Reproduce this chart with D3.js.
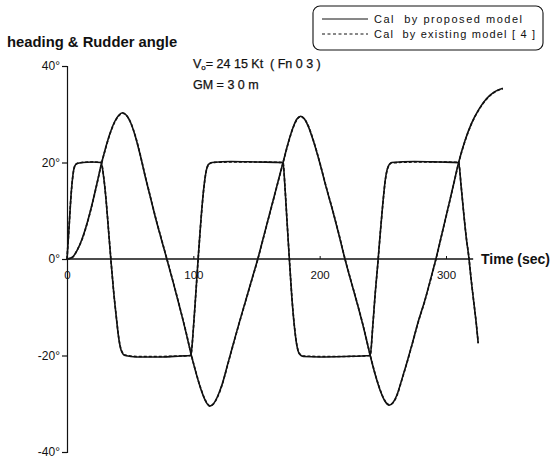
<!DOCTYPE html>
<html><head><meta charset="utf-8">
<script src="https://cdn.jsdelivr.net/npm/d3@7"></script>
<style>
html,body{margin:0;padding:0;background:#fff;}
svg{display:block;font-family:"Liberation Sans",Arial,sans-serif;}
text{white-space:pre;}
</style></head>
<body>
<svg id="chart" width="554" height="462"></svg>
<script>
// ---- data (time in sec, angles in degrees) ----
const headingTime = [0,4,8,12,16,20,24,27,30,34,38,41,44,47,50,54,58,62,66,70,75,79,84,89,94,98,102,106,110,113,116,119,123,127,131,136,141,146,151,156,161,166,171,175,179,182,185,188,191,195,200,205,210,215,220,225,230,235,240,244,248,252,255,258,261,265,269,273,278,283,288,292,297,302,306,310,315,320,326,332,338,345];
const headingProposed = [0,0.3,1.8,4.2,7.5,11.5,16,19.5,22.5,26,28.6,29.8,30.3,29.8,28.5,25.5,21.5,17,12.8,8.6,3.8,0,-4.8,-9.8,-15,-19.5,-23.5,-27,-29.6,-30.5,-30,-28.6,-25.8,-22,-18.2,-13.5,-9,-4.5,0,5,10,15,20,24,27.3,29,29.6,29,27.5,24.5,20,15,10.3,5.3,0,-4.8,-9.5,-14.5,-20,-24,-27.3,-29.6,-30.3,-29.8,-28.3,-25,-21.5,-17.8,-13,-8.8,-4,0,5.5,11,15.5,20,24.5,28,31,33.2,34.6,35.4];
const headingExisting = [0,0.3,1.8,4.1,7.4,11.4,15.9,19.4,22.4,25.9,28.5,29.7,30.2,29.8,28.5,25.6,21.6,17.1,12.9,8.7,3.9,0.1,-4.7,-9.7,-14.9,-19.4,-23.4,-26.9,-29.5,-30.4,-30,-28.7,-25.9,-22.1,-18.3,-13.6,-9.1,-4.6,-0.1,4.9,9.9,14.9,19.9,23.9,27.2,28.9,29.5,29,27.6,24.6,20.1,15.1,10.4,5.4,0.1,-4.7,-9.4,-14.4,-19.9,-23.9,-27.2,-29.5,-30.2,-29.8,-28.4,-25.1,-21.6,-17.9,-13.1,-8.9,-4.1,-0.1,5.4,10.9,15.4,19.9,24.4,27.9,30.9,33.1,34.5,35.3];

const rudderTime = [0,1.5,3,4.5,6,8,12,20,27,29,31,33,35,37,39,41,43,46,55,75,90,98,100,102,104,106,108,110,112,115,130,150,171,172.5,174,176,178,180,182,184,187,200,220,240,242,244,246,248,250,252,254,257,275,295,310,312,314,316,318,320,322,324,325.5];
const rudderProposed = [0,6,12.5,17,19.2,19.8,20,20.1,20,17,12,5.5,-1,-7,-12,-16.5,-19,-20,-20.3,-20.3,-20.1,-20,-14.5,-7,0.8,8,14,18,19.6,20,20.2,20.1,20,15,8.5,0,-8,-14,-18,-19.7,-20.2,-20.3,-20.2,-20,-14,-7,-1,5.5,11.5,16.5,19,20,20.2,20.1,20,15,9.5,4.5,0.5,-4.5,-9,-13.5,-17.5];
const rudderExisting = [0,6,12.4,16.9,19.1,19.8,20,20.1,20,17.1,12.1,5.6,-0.9,-6.9,-11.9,-16.4,-18.9,-19.9,-20.2,-20.2,-20.1,-20,-14.6,-7.1,0.7,7.9,13.9,17.9,19.5,20,20.1,20.1,20,15.1,8.6,0.1,-7.9,-13.9,-17.9,-19.6,-20.1,-20.2,-20.2,-20,-14.1,-7.1,-1.1,5.4,11.4,16.4,18.9,19.9,20.1,20.1,20,15.1,9.6,4.6,0.6,-4.4,-8.9,-13.4,-17.4];

const yTicks = [-40,-20,0,20,40];
const xTicks = [0,100,200,300];
const xAxisEnd = 321.5;
const legendLabels = ["Cal  by proposed model","Cal  by existing model [ 4 ]"];

// ---- scales ----
const svg = d3.select("#chart");
const x = d3.scaleLinear().domain([0,300]).range([67,446]);
const y = d3.scaleLinear().domain([-40,40]).range([452,66]);
const ink = "#111";

// ---- y axis ----
const yAxis = svg.append("g").attr("transform",`translate(${x(0)},0)`)
  .call(d3.axisLeft(y).tickValues(yTicks).tickSizeInner(5).tickSizeOuter(5).tickPadding(2)
    .tickFormat(d => d + "°"));
yAxis.selectAll("path,line").attr("stroke",ink).attr("stroke-width",1.2);
yAxis.selectAll("text").attr("font-size","12px").attr("fill",ink).attr("font-family","Liberation Sans, Arial, sans-serif");

// ---- x axis ----
const xAxis = svg.append("g").attr("transform",`translate(0,${y(0)})`)
  .call(d3.axisBottom(x).tickValues(xTicks).tickSizeInner(-3).tickSizeOuter(0).tickPadding(12)
    .tickFormat(d3.format("d")));
xAxis.select(".domain").remove();
xAxis.selectAll("line").attr("stroke",ink).attr("stroke-width",1);
xAxis.selectAll("text").attr("font-size","11.5px").attr("fill",ink).attr("font-family","Liberation Sans, Arial, sans-serif");
svg.append("line").attr("x1",x(0)).attr("x2",x(xAxisEnd)).attr("y1",y(0)).attr("y2",y(0))
  .attr("stroke",ink).attr("stroke-width",1.3);

// ---- lines ----
const mk = (ts, vs) => ts.map((t,i)=>[t,vs[i]]);
const line = d3.line().x(d=>x(d[0])).y(d=>y(d[1])).curve(d3.curveMonotoneX);
const series = [
  {data: mk(headingTime, headingProposed), dash: null},
  {data: mk(rudderTime, rudderProposed), dash: null},
  {data: mk(headingTime, headingExisting), dash: "3,2"},
  {data: mk(rudderTime, rudderExisting), dash: "3,2"}
];
svg.append("g").selectAll("path").data(series).join("path")
  .attr("d", d => line(d.data))
  .attr("fill","none").attr("stroke",ink).attr("stroke-width",1.6)
  .attr("stroke-dasharray", d => d.dash);

// ---- texts ----
svg.append("text").attr("x",7).attr("y",47).attr("font-size","14.8px").attr("font-weight","bold")
  .attr("fill",ink).text("heading & Rudder angle");
svg.append("text").attr("x",481).attr("y",264).attr("font-size","14px").attr("font-weight","bold")
  .attr("fill",ink).text("Time (sec)");
const vt = svg.append("text").attr("x",193).attr("y",68).attr("font-size","12.5px").attr("fill",ink)
  .attr("stroke",ink).attr("stroke-width",0.25);
vt.append("tspan").text("V");
vt.append("tspan").attr("font-size","8px").attr("dy",2).text("o");
vt.append("tspan").attr("dy",-2).text("= 24 15 Kt  ( Fn 0 3 )");
svg.append("text").attr("x",193).attr("y",89).attr("font-size","12.5px").attr("fill",ink)
  .attr("stroke",ink).attr("stroke-width",0.25).text("GM = 3 0 m");

// ---- legend ----
const lg = svg.append("g");
lg.append("rect").attr("x",313).attr("y",6).attr("width",230).attr("height",44).attr("rx",7)
  .attr("fill","#fff").attr("stroke",ink).attr("stroke-width",1.1);
const dashes = [null,"3,2.5"];
const legendWidths = [148,161];
legendLabels.forEach((lab,i)=>{
  const yy = 19 + i*15;
  lg.append("line").attr("x1",322).attr("x2",368).attr("y1",yy).attr("y2",yy)
    .attr("stroke",ink).attr("stroke-width",1).attr("stroke-dasharray",dashes[i]);
  lg.append("text").attr("x",374).attr("y",yy+3.8).attr("font-size","11px").attr("fill",ink)
    .attr("textLength",legendWidths[i]).attr("lengthAdjust","spacing")
    .text(lab);
});
</script>
</body></html>
